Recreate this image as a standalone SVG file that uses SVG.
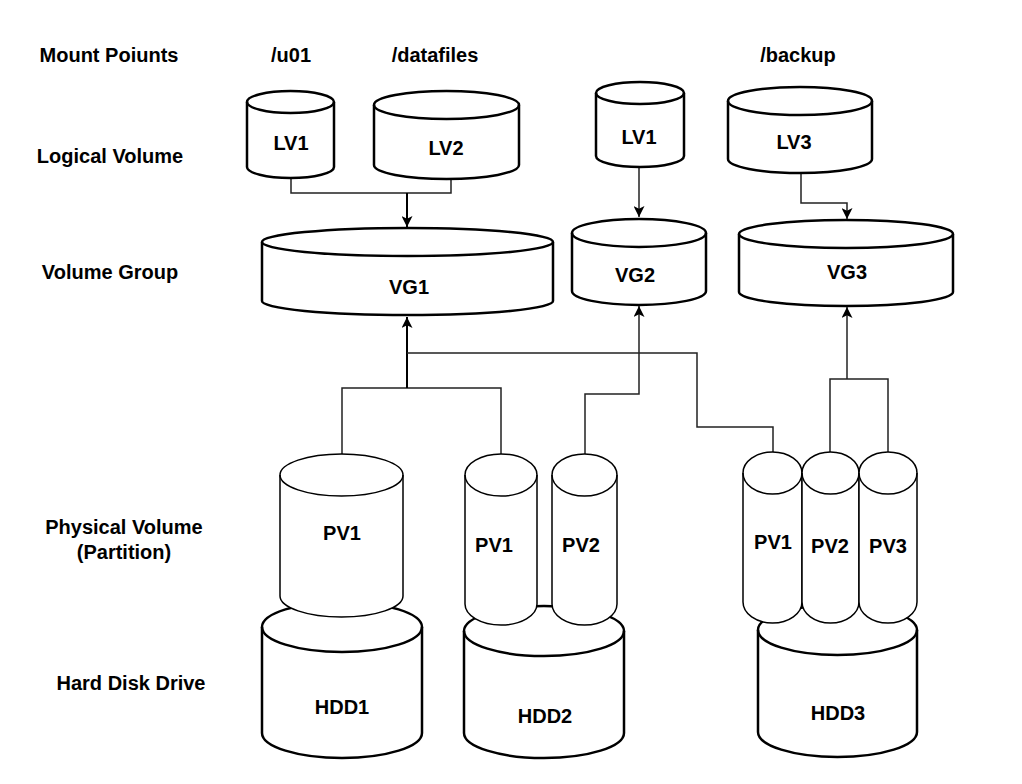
<svg xmlns="http://www.w3.org/2000/svg" width="1022" height="784" viewBox="0 0 1022 784">
<style>
text{font-family:"Liberation Sans",Arial,sans-serif;font-weight:bold;font-size:20px;fill:#000;text-anchor:middle}
.cyl{fill:#fff;stroke:#000;stroke-width:2.5}
.pv{fill:#fff;stroke:#000;stroke-width:1.5}
.arc{fill:none}
.conn{fill:none;stroke:#222;stroke-width:1.5}
.thick{fill:none;stroke:#000;stroke-width:2}
</style>
<defs>
<marker id="arr" viewBox="0 0 10 10" refX="10" refY="5" markerWidth="11" markerHeight="11" markerUnits="userSpaceOnUse" orient="auto">
<path d="M0,0 L10,5 L0,10 L2.5,5 Z" fill="#000"/>
</marker>
</defs>
<rect width="1022" height="784" fill="#fff"/>
<g id="labels">
<text x="109" y="62">Mount Poiunts</text>
<text x="110" y="163">Logical Volume</text>
<text x="110" y="279">Volume Group</text>
<text x="124" y="534">Physical Volume</text>
<text x="124" y="559">(Partition)</text>
<text x="131" y="690">Hard Disk Drive</text>
<text x="291" y="62">/u01</text>
<text x="435" y="62">/datafiles</text>
<text x="798" y="62">/backup</text>
</g>
<g id="connectors">
<path class="conn" d="M291,178 V193 H451 V179"/>
<path class="thick" d="M407,193 V227" marker-end="url(#arr)"/>
<path class="conn" d="M639,167 V217" marker-end="url(#arr)"/>
<path class="conn" d="M801,173 V203 H847 V219" marker-end="url(#arr)"/>
<path class="conn" d="M342,454 V388 H501 V454"/>
<path class="thick" d="M407,388 V317" marker-end="url(#arr)"/>
<path class="conn" d="M407,353 H697 V427 H773 V452"/>
<path class="conn" d="M585,454 V394 H639 V306" marker-end="url(#arr)"/>
<path class="conn" d="M830,452 V379 H888 V452"/>
<path class="conn" d="M847,379 V307" marker-end="url(#arr)"/>
</g>
<g id="lv1-a">
<path class="cyl" d="M247,102 A43.5,11 0 0 1 334,102 L334,167 A43.5,11 0 0 1 247,167 Z"/>
<path class="cyl arc" d="M247,102 A43.5,11 0 0 0 334,102"/>
<text x="291" y="150">LV1</text>
</g>
<g id="lv2">
<path class="cyl" d="M374,105 A72.5,14 0 0 1 519,105 L519,165 A72.5,14 0 0 1 374,165 Z"/>
<path class="cyl arc" d="M374,105 A72.5,14 0 0 0 519,105"/>
<text x="446" y="155">LV2</text>
</g>
<g id="lv1-b">
<path class="cyl" d="M596,93 A44,11 0 0 1 684,93 L684,156 A44,11 0 0 1 596,156 Z"/>
<path class="cyl arc" d="M596,93 A44,11 0 0 0 684,93"/>
<text x="639" y="144">LV1</text>
</g>
<g id="lv3">
<path class="cyl" d="M728,101 A72,14 0 0 1 872,101 L872,159 A72,14 0 0 1 728,159 Z"/>
<path class="cyl arc" d="M728,101 A72,14 0 0 0 872,101"/>
<text x="794" y="149">LV3</text>
</g>
<g id="vg1">
<path class="cyl" d="M262,242 A145.5,14 0 0 1 553,242 L553,301 A145.5,14 0 0 1 262,301 Z"/>
<path class="cyl arc" d="M262,242 A145.5,14 0 0 0 553,242"/>
<text x="409" y="294">VG1</text>
</g>
<g id="vg2">
<path class="cyl" d="M572,233 A67,14 0 0 1 706,233 L706,291 A67,14 0 0 1 572,291 Z"/>
<path class="cyl arc" d="M572,233 A67,14 0 0 0 706,233"/>
<text x="635" y="282">VG2</text>
</g>
<g id="vg3">
<path class="cyl" d="M739,234 A107,14 0 0 1 953,234 L953,292 A107,14 0 0 1 739,292 Z"/>
<path class="cyl arc" d="M739,234 A107,14 0 0 0 953,234"/>
<text x="847" y="279">VG3</text>
</g>
<g id="hdd1">
<path class="cyl" d="M262,627 A80,25 0 0 1 422,627 L422,733 A80,25 0 0 1 262,733 Z"/>
<path class="cyl arc" d="M262,627 A80,25 0 0 0 422,627"/>
<text x="342" y="714">HDD1</text>
</g>
<g id="hdd2">
<path class="cyl" d="M464,631 A80,25 0 0 1 624,631 L624,733 A80,25 0 0 1 464,733 Z"/>
<path class="cyl arc" d="M464,631 A80,25 0 0 0 624,631"/>
<text x="545" y="723">HDD2</text>
</g>
<g id="hdd3">
<path class="cyl" d="M758,630 A79.5,25 0 0 1 917,630 L917,732 A79.5,25 0 0 1 758,732 Z"/>
<path class="cyl arc" d="M758,630 A79.5,25 0 0 0 917,630"/>
<text x="838" y="720">HDD3</text>
</g>
<g id="hdd1-pv1">
<path class="pv" d="M280,475 A61.5,21 0 0 1 403,475 L403,596 A61.5,21 0 0 1 280,596 Z"/>
<path class="pv arc" d="M280,475 A61.5,21 0 0 0 403,475"/>
<text x="342" y="540">PV1</text>
</g>
<g id="hdd2-pv1">
<path class="pv" d="M465,475 A36,21 0 0 1 537,475 L537,604 A36,21 0 0 1 465,604 Z"/>
<path class="pv arc" d="M465,475 A36,21 0 0 0 537,475"/>
<text x="494" y="552">PV1</text>
</g>
<g id="hdd2-pv2">
<path class="pv" d="M552,475 A32.5,21 0 0 1 617,475 L617,604 A32.5,21 0 0 1 552,604 Z"/>
<path class="pv arc" d="M552,475 A32.5,21 0 0 0 617,475"/>
<text x="581" y="552">PV2</text>
</g>
<g id="hdd3-pv1">
<path class="pv" d="M743,473 A29.5,21 0 0 1 802,473 L802,602 A29.5,21 0 0 1 743,602 Z"/>
<path class="pv arc" d="M743,473 A29.5,21 0 0 0 802,473"/>
<text x="773" y="549">PV1</text>
</g>
<g id="hdd3-pv2">
<path class="pv" d="M802,473 A28.5,21 0 0 1 859,473 L859,602 A28.5,21 0 0 1 802,602 Z"/>
<path class="pv arc" d="M802,473 A28.5,21 0 0 0 859,473"/>
<text x="830" y="553">PV2</text>
</g>
<g id="hdd3-pv3">
<path class="pv" d="M859,473 A29,21 0 0 1 917,473 L917,602 A29,21 0 0 1 859,602 Z"/>
<path class="pv arc" d="M859,473 A29,21 0 0 0 917,473"/>
<text x="888" y="553">PV3</text>
</g>
</svg>
